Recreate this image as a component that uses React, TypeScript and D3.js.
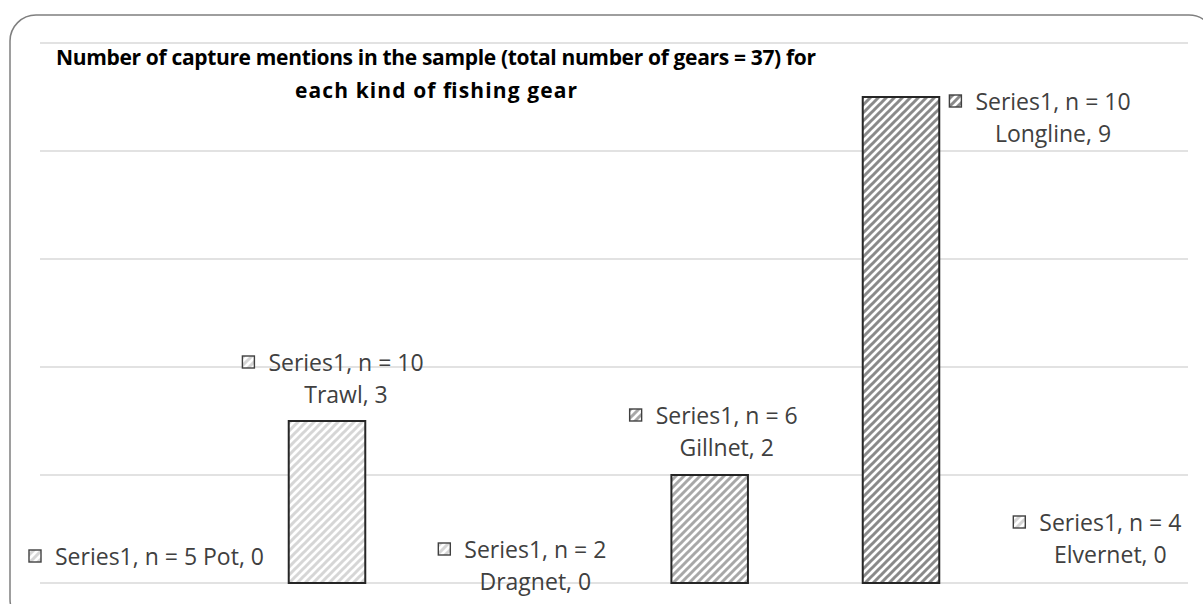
import React, { useEffect, useRef } from "react";
import * as d3 from "d3";

const categories = ["Pot", "Trawl", "Dragnet", "Gillnet", "Longline", "Elvernet"];
const captures = [0, 3, 0, 2, 9, 0];
const sampleSizes = [5, 10, 2, 6, 10, 4];
const yTicks = [0, 2, 4, 6, 8, 10];
const titleLines = [
  "Number of capture mentions in the sample (total number of gears = 37) for",
  "each kind of fishing gear",
];

const W = 1203;
const H = 604;

// pattern shade per category (Excel gray ramp)
const shades = ["#d6d6d6", "#d6d6d6", "#d6d6d6", "#a8a8a8", "#8a8a8a", "#d6d6d6"];

// manual label placement, as the labels were dragged around in the original
// mode: "above" = over the bar, "right" = beside the bar top, "inline" = one line
const labelPlace: { mode: string; dx: number; dy: number }[] = [
  { mode: "inline", dx: 0, dy: -18 },
  { mode: "above", dx: 19, dy: 18 },
  { mode: "above", dx: 17, dy: -7 },
  { mode: "above", dx: 17, dy: 19 },
  { mode: "right", dx: 152, dy: 0 },
  { mode: "above", dx: 18, dy: 20 },
];
const titleWidths = [760, 282];

const App: React.FC = () => {
  const svgRef = useRef<SVGSVGElement | null>(null);

  useEffect(() => {
    const svg = d3.select(svgRef.current);
    svg.selectAll("*").remove();

    const x = d3
      .scaleBand<string>()
      .domain(categories)
      .range([40, 1188])
      .paddingInner(0.6)
      .paddingOuter(0.3);
    const y = d3.scaleLinear().domain([0, 10]).range([583, 43]);

    const defs = svg.append("defs");
    shades.forEach((c, i) => {
      const p = defs
        .append("pattern")
        .attr("id", `hatch${i}`)
        .attr("patternUnits", "userSpaceOnUse")
        .attr("width", 8)
        .attr("height", 8);
      p.append("rect").attr("width", 8).attr("height", 8).attr("fill", "#fff");
      p.append("path")
        .attr("d", "M-2,2 L2,-2 M0,8 L8,0 M6,10 L10,6")
        .attr("stroke", c)
        .attr("stroke-width", 3);
    });

    // chart frame
    svg
      .append("rect")
      .attr("x", 10)
      .attr("y", 15)
      .attr("width", 1205)
      .attr("height", 610)
      .attr("rx", 26)
      .attr("fill", "#fff")
      .attr("stroke", "#7f7f7f")
      .attr("stroke-width", 1.5);

    // gridlines
    svg
      .append("g")
      .selectAll("line")
      .data(yTicks)
      .join("line")
      .attr("x1", 40)
      .attr("x2", 1188)
      .attr("y1", (d) => y(d))
      .attr("y2", (d) => y(d))
      .attr("stroke", "#d9d9d9")
      .attr("stroke-width", 1.5);

    // bars
    svg
      .append("g")
      .selectAll("rect")
      .data(categories.map((c, i) => ({ c, i, v: captures[i] })).filter((d) => d.v > 0))
      .join("rect")
      .attr("x", (d) => x(d.c)!)
      .attr("y", (d) => y(d.v))
      .attr("width", x.bandwidth())
      .attr("height", (d) => y(0) - y(d.v))
      .attr("fill", (d) => `url(#hatch${d.i})`)
      .attr("stroke", "#262626")
      .attr("stroke-width", 2);

    // title
    svg
      .append("g")
      .selectAll("text")
      .data(titleLines)
      .join("text")
      .attr("x", 436)
      .attr("y", (d, i) => 65 + i * 33)
      .attr("text-anchor", "middle")
      .attr("textLength", (d, i) => titleWidths[i])
      .attr("lengthAdjust", "spacing")
      .style("font-family", "'Open Sans', sans-serif")
      .style("font-weight", "bold")
      .style("font-size", "21px")
      .attr("fill", "#000")
      .text((d) => d);

    // data labels
    const lg = svg.append("g").style("font-family", "'Open Sans', sans-serif").style("font-size", "23px");
    categories.forEach((c, i) => {
      const pl = labelPlace[i];
      const cx = x(c)! + x.bandwidth() / 2;
      const line1 = `Series1, n = ${sampleSizes[i]}`;
      const line2 = `${c}, ${captures[i]}`;
      let t1: d3.Selection<SVGTextElement, unknown, null, undefined>;
      if (pl.mode === "inline") {
        t1 = lg
          .append("text")
          .attr("x", 55)
          .attr("y", y(captures[i]) + pl.dy)
          .attr("fill", "#404040")
          .text(`${line1} ${line2}`);
      } else {
        const tx = cx + pl.dx;
        const base2 =
          pl.mode === "right" ? y(captures[i]) + 45 : y(captures[i]) - pl.dy;
        t1 = lg
          .append("text")
          .attr("x", tx)
          .attr("y", base2 - 32)
          .attr("text-anchor", "middle")
          .attr("fill", "#404040")
          .text(line1);
        lg.append("text")
          .attr("x", tx)
          .attr("y", base2)
          .attr("text-anchor", "middle")
          .attr("fill", "#404040")
          .text(line2);
      }
      const bb = (t1.node() as SVGTextElement).getBBox();
      lg.append("rect")
        .attr("x", bb.x - 26)
        .attr("y", bb.y + bb.height / 2 - 6)
        .attr("width", 12)
        .attr("height", 12)
        .attr("fill", `url(#hatch${i})`)
        .attr("stroke", "#404040")
        .attr("stroke-width", 1.4);
    });
  }, []);

  return (
    <svg
      ref={svgRef}
      width={W}
      height={H}
      style={{ position: "absolute", left: 0, top: 0, display: "block", background: "#fff" }}
    />
  );
};

export default App;
